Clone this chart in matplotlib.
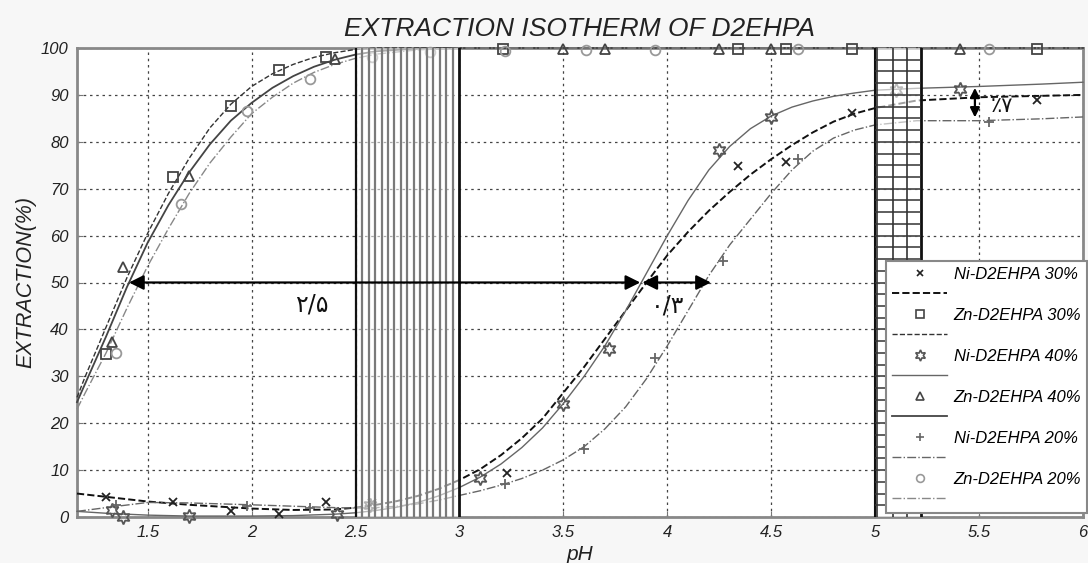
import numpy as np
import matplotlib
matplotlib.use("Agg")
import matplotlib.pyplot as plt
from matplotlib.lines import Line2D

plt.rcParams['font.family'] = ['Liberation Sans', 'DejaVu Sans']

# ---------------- data ----------------
series_names = ["Ni-D2EHPA 30%", "Zn-D2EHPA 30%", "Ni-D2EHPA 40%",
                "Zn-D2EHPA 40%", "Ni-D2EHPA 20%", "Zn-D2EHPA 20%"]

ni30_ph = [1.30, 1.62, 1.90, 2.13, 2.36, 2.58, 3.23, 4.34, 4.57, 4.89, 5.78]
ni30_y = [4.3, 3.2, 1.3, 0.7, 3.2, 3.0, 9.4, 74.9, 75.6, 86.1, 89.0]

zn30_ph = [1.30, 1.62, 1.90, 2.13, 2.36, 3.21, 4.34, 4.57, 4.89, 5.78]
zn30_y = [34.8, 72.6, 87.6, 95.3, 98.0, 99.8, 99.8, 99.8, 99.8, 99.8]

ni40_ph = [1.33, 1.38, 1.70, 2.41, 2.57, 3.10, 3.50, 3.72, 4.25, 4.50, 5.10, 5.41]
ni40_y = [1.5, 0.0, 0.2, 0.6, 2.5, 8.3, 24.1, 35.8, 78.2, 85.2, 91.0, 91.3]

zn40_ph = [1.33, 1.38, 1.70, 2.40, 3.50, 3.70, 4.25, 4.50, 5.41]
zn40_y = [37.3, 53.3, 72.8, 97.6, 99.8, 99.8, 99.8, 99.8, 99.8]

ni20_ph = [1.35, 1.98, 2.28, 3.22, 3.60, 3.94, 4.27, 4.63, 5.55]
ni20_y = [2.6, 2.3, 1.9, 7.0, 14.5, 34.0, 54.6, 76.3, 84.3]

zn20_ph = [1.35, 1.66, 1.98, 2.28, 2.58, 2.86, 3.22, 3.61, 3.94, 4.63, 5.55]
zn20_y = [35.0, 66.8, 86.6, 93.3, 98.0, 99.2, 99.3, 99.5, 99.5, 99.7, 99.8]

# fitted curves
zn_fit_ph = [1.16, 1.2, 1.3, 1.4, 1.5, 1.6, 1.7, 1.8, 1.9, 2.0, 2.1, 2.2, 2.3,
             2.4, 2.5, 2.6, 2.8, 3.0, 4.0, 5.0, 6.0]
zn30_fit = [25.5, 30, 40.5, 51, 60.5, 69, 76.5, 83, 88, 91.8, 94.5, 96.5, 98.0,
            99.0, 99.7, 100, 100, 100, 100, 100, 100]
zn40_fit = [24.5, 28.5, 38.5, 49, 58.5, 66.5, 73.5, 79.5, 84.5, 88.3, 91.5, 94, 96,
            97.5, 98.6, 99.3, 99.9, 100, 100, 100, 100]
zn20_fit = [23, 26.5, 35, 44.5, 53.5, 61.5, 69, 75.5, 81, 86, 89.5, 92.5, 94.8,
            96.5, 97.8, 98.7, 99.6, 100, 100, 100, 100]

ni_fit_ph = [1.16, 1.3, 1.5, 1.7, 2.0, 2.2, 2.4, 2.5, 2.6, 2.7, 2.8, 2.9, 3.0, 3.1,
             3.2, 3.3, 3.4, 3.5, 3.6, 3.7, 3.8, 3.9, 4.0, 4.1, 4.2, 4.3, 4.4, 4.5,
             4.6, 4.7, 4.8, 4.9, 5.0, 5.2, 5.5, 5.8, 6.0]
ni30_fit = [5.0, 4.3, 3.3, 2.6, 1.8, 1.5, 1.6, 2.0, 2.6, 3.4, 4.5, 6.0, 7.9, 10.2,
            13.2, 16.8, 21.0, 26.5, 32.0, 38.0, 44.0, 50.0, 55.8, 60.8, 65.3, 69.3,
            73.0, 76.3, 79.3, 82.0, 84.3, 86.0, 87.2, 88.8, 89.5, 89.8, 90.0]
ni40_fit = [1.2, 0.8, 0.4, 0.2, 0.2, 0.3, 0.6, 0.9, 1.4, 2.1, 3.1, 4.5, 6.3, 8.5,
            11.3, 14.8, 19.0, 24.2, 30.0, 36.5, 44.0, 52.0, 60.0, 67.5, 74.0, 79.0,
            82.8, 85.5, 87.4, 88.7, 89.7, 90.4, 91.0, 91.4, 91.8, 92.3, 92.7]
ni20_fit = [1.2, 2.0, 3.1, 3.0, 2.6, 2.3, 2.0, 1.9, 2.0, 2.3, 2.8, 3.6, 4.6, 5.6,
            6.8, 8.2, 10.0, 12.2, 15.0, 18.8, 23.5, 29.5, 36.5, 44.0, 51.5, 58.0,
            63.5, 69.0, 74.0, 78.0, 80.8, 82.5, 83.6, 84.5, 84.5, 84.9, 85.3]

x_ticks = [1.5, 2, 2.5, 3, 3.5, 4, 4.5, 5, 5.5, 6]
y_ticks = list(range(0, 101, 10))

# ---------------- figure ----------------
fig = plt.figure(figsize=(10.88, 5.63), dpi=100, facecolor='#f7f7f7')
ax = fig.add_axes([77/1088, 1-517/563, (1083-77)/1088, (517-48)/563])
ax.set_facecolor('white')
ax.set_xlim(1.16, 6.0)
ax.set_ylim(0, 100)

ax.set_xticks(x_ticks)
ax.set_xticklabels([f"{t:g}" for t in x_ticks])
ax.set_yticks(y_ticks)
ax.tick_params(labelsize=12, length=4, direction='in', color='#777', pad=6)
for lab in ax.get_xticklabels() + ax.get_yticklabels():
    lab.set_fontstyle('italic')
    lab.set_color('#222')
ax.grid(True, color='#444', linestyle=(0, (2, 3)), linewidth=0.9)
ax.set_axisbelow(True)
for s in ax.spines.values():
    s.set_color('#888')
    s.set_linewidth(2)

ax.set_title("EXTRACTION ISOTHERM OF D2EHPA", fontsize=19, fontstyle='italic',
             color='#222', pad=9)
ax.set_ylabel("EXTRACTION(%)", fontsize=15.5, fontstyle='italic', color='#222', labelpad=3)
ax.set_xlabel("pH", fontsize=15, fontstyle='italic', color='#222', labelpad=3)

# styles
styles = [
    dict(m='x', mc='#222', ls='--', lc='#111', lw=1.4, ms=6),
    dict(m='s', mc='#444', ls='--', lc='#333', lw=1.0, ms=7),
    dict(m=(6, 1, 0), mc='#555', ls='-', lc='#666', lw=1.0, ms=10),
    dict(m='^', mc='#444', ls='-', lc='#444', lw=1.3, ms=7),
    dict(m='+', mc='#666', ls='-.', lc='#666', lw=1.0, ms=7),
    dict(m='o', mc='#999', ls='-.', lc='#888', lw=1.0, ms=7),
]
pts = [(ni30_ph, ni30_y), (zn30_ph, zn30_y), (ni40_ph, ni40_y),
       (zn40_ph, zn40_y), (ni20_ph, ni20_y), (zn20_ph, zn20_y)]
fits = [(ni_fit_ph, ni30_fit), (zn_fit_ph, zn30_fit), (ni_fit_ph, ni40_fit),
        (zn_fit_ph, zn40_fit), (ni_fit_ph, ni20_fit), (zn_fit_ph, zn20_fit)]

for st, (px, py), (fx, fy) in zip(styles, pts, fits):
    ax.plot(fx, fy, linestyle=st['ls'], color=st['lc'], lw=st['lw'], zorder=3,
            clip_on=False)
    ax.plot(px, py, linestyle='none', marker=st['m'], ms=st['ms'],
            mfc='none' if st['m'] not in ('x', '+') else st['mc'],
            mec=st['mc'], mew=1.3, zorder=4, clip_on=False)

# hatched bands
ax.axvspan(2.5, 3.0, color='white', alpha=0.55, zorder=5, lw=0)
for xv in np.linspace(2.5, 3.0, 17)[1:-1]:
    ax.axvline(xv, color='#7a7a7a', lw=1.6, zorder=6)
ax.axvline(2.5, color='#111', lw=1.6, zorder=6)
ax.axvline(3.0, color='#111', lw=2.0, zorder=6)

ax.axvspan(5.0, 5.22, color='white', alpha=0.6, zorder=5, lw=0)
for xv in [5.01, 5.085, 5.155]:
    ax.axvline(xv, color='#333', lw=1.2, zorder=6)
ax.axvline(5.0, color='#111', lw=1.5, zorder=6)
ax.axvline(5.22, color='#111', lw=2.0, zorder=6)
ax.hlines(np.arange(2.5, 100, 2.5), 5.0, 5.22, color='#333', lw=1.1, zorder=6)

# arrows and annotations
ap = dict(arrowstyle='<|-|>', color='black', lw=1.6, mutation_scale=22,
          shrinkA=0, shrinkB=0)
ax.annotate('', xy=(1.41, 50), xytext=(3.87, 50), arrowprops=ap, zorder=7)
ax.annotate('', xy=(3.88, 50), xytext=(4.21, 50), arrowprops=ap, zorder=7)
ap2 = dict(arrowstyle='<|-|>', color='black', lw=1.6, mutation_scale=14,
           shrinkA=0, shrinkB=0)
ax.annotate('', xy=(5.48, 91.5), xytext=(5.48, 85.2), arrowprops=ap2, zorder=7)

ax.text(2.29, 45.4, "۲/۵", fontsize=17, ha='center', va='center',
        family=['DejaVu Sans'], color='#111', zorder=7)
ax.text(4.0, 45.0, "۰/۳", fontsize=17, ha='center', va='center',
        family=['DejaVu Sans'], color='#111', zorder=7)
ax.text(5.61, 87.6, "٪۷", fontsize=15, ha='center', va='center',
        family=['DejaVu Sans'], color='#111', zorder=7)

# legend (marker row with label, then line row)
handles, labels = [], []
for st, name in zip(styles, series_names):
    handles.append(Line2D([], [], linestyle='none', marker=st['m'], ms=st['ms'] * 0.8,
                          mfc='none' if st['m'] not in ('x', '+') else st['mc'],
                          mec=st['mc'], mew=1.2))
    labels.append(name)
    handles.append(Line2D([], [], linestyle=st['ls'], color=st['lc'], lw=st['lw']))
    labels.append(' ')
leg = ax.legend(handles, labels, loc='lower right',
                bbox_to_anchor=(1087/1088, 1-513/563), bbox_transform=fig.transFigure,
                borderaxespad=0, fancybox=False, framealpha=1, edgecolor='#888',
                prop=dict(family='Liberation Sans', style='italic', size=12),
                handlelength=3.3, handletextpad=0.4, labelspacing=0.33,
                borderpad=0.35)
leg.get_frame().set_linewidth(1.5)
leg.set_zorder(10)

fig.savefig("out.png", dpi=100, facecolor=fig.get_facecolor())
